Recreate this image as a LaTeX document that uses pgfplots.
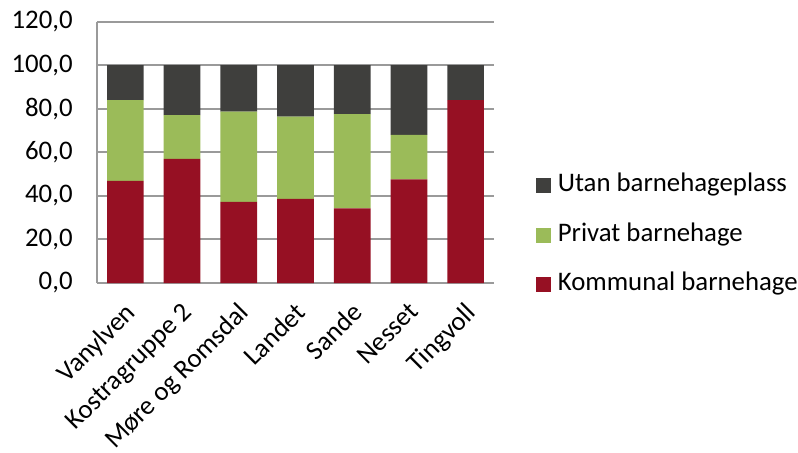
\documentclass[border=0pt]{standalone}
\usepackage{fontspec}
\setmainfont{Carlito}
\usepackage{pgfplots}
\usepackage{pgfplotstable}
\pgfplotsset{compat=1.18}

\definecolor{kommunal}{HTML}{961023}
\definecolor{privat}{HTML}{9BBB59}
\definecolor{utan}{HTML}{3F3F3D}
\definecolor{gridgray}{HTML}{9A9A9A}

% andel barn 1-5 aar etter type barnehage (prosent)
\pgfplotstableread{
x kommunal privat utan
0 46.9 37.0 16.1
1 57.0 20.0 23.0
2 37.2 41.5 21.3
3 38.6 37.7 23.7
4 34.3 43.2 22.5
5 47.6 20.4 32.0
6 83.9  0.0 16.1
}\barnehage

\begin{document}
\begin{tikzpicture}[font=\fontsize{13.4}{16}\selectfont]
\path[use as bounding box] (-48.5pt,-84.5pt) rectangle (350.5pt,141.5pt);
\begin{axis}[
  at={(0,0)}, anchor=south west,
  scale only axis, width=198.5pt, height=130.75pt,
  ybar stacked, bar width=18.35pt,
  xmin=-0.5, xmax=6.5, ymin=0, ymax=120,
  ytick={0,20,...,120},
  xtick=data,
  xticklabels={Vanylven,Kostragruppe 2,Møre og Romsdal,Landet,Sande,Nesset,Tingvoll},
  axis lines*=left,
  axis line style={gridgray, line width=1pt},
  ymajorgrids, grid style={gridgray, line width=1pt},
  major tick length=0pt, tick style={draw=none},
  yticklabel={\pgfmathprintnumber[fixed,fixed zerofill,precision=1,use comma,assume math mode=true]{\tick}},
  yticklabel style={inner sep=0pt, xshift=-12pt},
  xticklabel style={yshift=-8.8pt, xshift=-0.8pt, rotate=45, anchor=north east, inner sep=0pt},
  reverse legend, legend cell align=left,
  legend image code/.code={\fill[#1] (0pt,-3.75pt) rectangle (7.5pt,3.75pt);},
  legend style={draw=none, fill=none, at={(1.1058,0.183)}, anchor=west,
    inner sep=0pt, row sep=8.7pt, column sep=1.2pt,
    nodes={inner sep=2pt, text height=9pt, text depth=3pt}},
]
\addplot[fill=kommunal, draw=none] table[x=x, y=kommunal] {\barnehage};
\addplot[fill=privat, draw=none] table[x=x, y=privat] {\barnehage};
\addplot[fill=utan, draw=none] table[x=x, y=utan] {\barnehage};
\legend{Kommunal barnehage, Privat barnehage, Utan barnehageplass}
\end{axis}
\end{tikzpicture}
\end{document}
